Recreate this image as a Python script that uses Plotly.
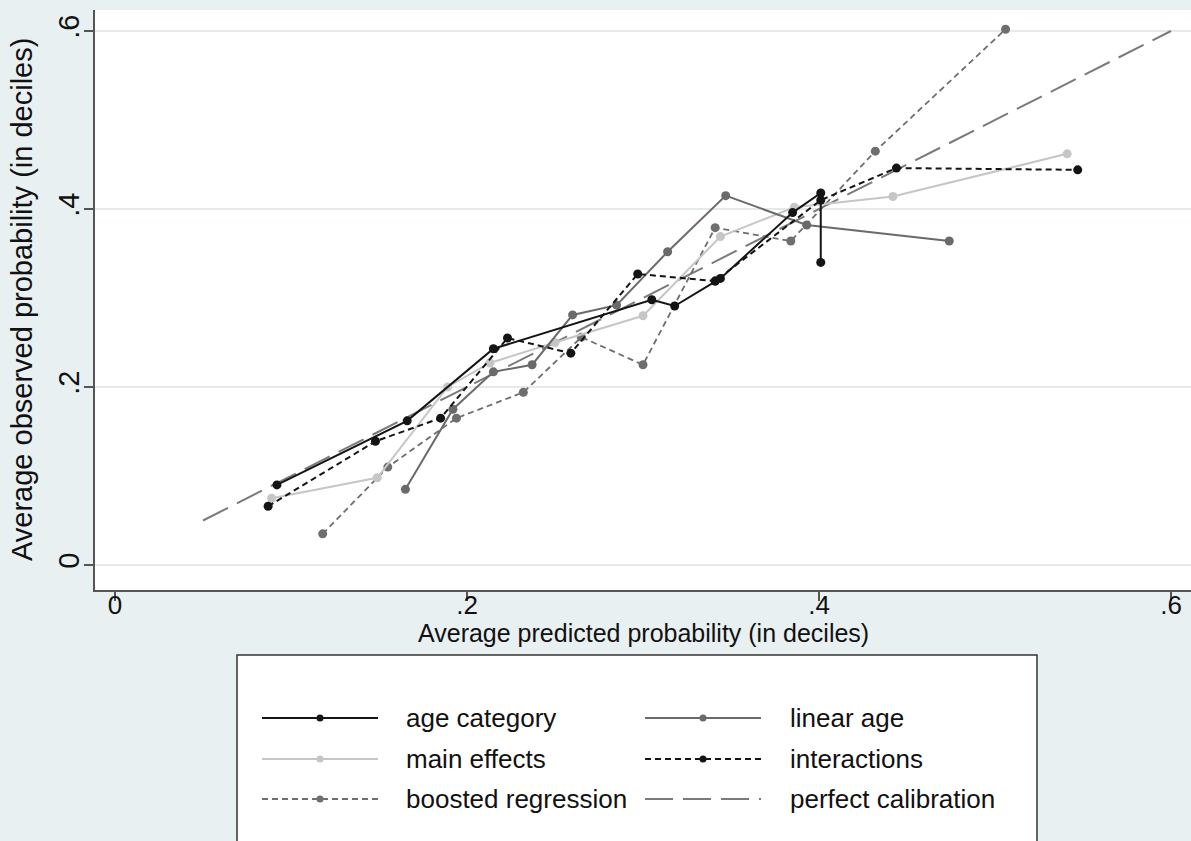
import plotly.graph_objects as go

# Calibration curves: average predicted vs. average observed probability by decile
age_category_x = [0.092, 0.166, 0.215, 0.305, 0.318, 0.341, 0.344, 0.385, 0.401, 0.401]
age_category_y = [0.090, 0.162, 0.243, 0.298, 0.291, 0.319, 0.322, 0.396, 0.418, 0.340]

linear_age_x = [0.165, 0.192, 0.215, 0.237, 0.260, 0.285, 0.314, 0.347, 0.393, 0.474]
linear_age_y = [0.085, 0.175, 0.217, 0.225, 0.281, 0.292, 0.352, 0.415, 0.382, 0.364]

main_effects_x = [0.089, 0.149, 0.189, 0.213, 0.250, 0.300, 0.344, 0.386, 0.442, 0.541]
main_effects_y = [0.075, 0.098, 0.200, 0.227, 0.250, 0.280, 0.369, 0.402, 0.414, 0.462]

interactions_x = [0.087, 0.148, 0.185, 0.223, 0.259, 0.297, 0.341, 0.401, 0.444, 0.547]
interactions_y = [0.066, 0.139, 0.165, 0.255, 0.238, 0.327, 0.319, 0.410, 0.446, 0.444]

boosted_x = [0.118, 0.155, 0.194, 0.232, 0.265, 0.300, 0.341, 0.384, 0.432, 0.506]
boosted_y = [0.035, 0.110, 0.165, 0.194, 0.256, 0.225, 0.379, 0.364, 0.465, 0.602]

perfect_x = [0.05, 0.60]
perfect_y = [0.05, 0.60]

tick_vals = [0, 0.2, 0.4, 0.6]
tick_text = ["0", ".2", ".4", ".6"]

series_names = ["age category", "linear age", "main effects",
                "interactions", "boosted regression", "perfect calibration"]

styles = {
    "age category": dict(color="#141414", dash="solid", width=2, marker=True),
    "linear age": dict(color="#6a6a6a", dash="solid", width=2, marker=True),
    "main effects": dict(color="#c6c6c6", dash="solid", width=2, marker=True),
    "interactions": dict(color="#141414", dash="6px,4px", width=2, marker=True),
    "boosted regression": dict(color="#6e6e6e", dash="6px,4px", width=1.8, marker=True),
    "perfect calibration": dict(color="#7a7a7a", dash="28px,10px", width=2, marker=False),
}

data = {
    "age category": (age_category_x, age_category_y),
    "linear age": (linear_age_x, linear_age_y),
    "main effects": (main_effects_x, main_effects_y),
    "interactions": (interactions_x, interactions_y),
    "boosted regression": (boosted_x, boosted_y),
    "perfect calibration": (perfect_x, perfect_y),
}

FONT = "Liberation Sans, Arial, sans-serif"
W, H = 1191, 841
L, R, T, B = 95, 0, 10, 251
PW, PH = W - L - R, H - T - B

def paper_x(px):
    return (px - L) / PW

def paper_y(py):
    return (H - B - py) / PH

fig = go.Figure()

draw_order = ["perfect calibration", "boosted regression", "main effects",
              "linear age", "interactions", "age category"]
for name in draw_order:
    xs, ys = data[name]
    st = styles[name]
    fig.add_trace(go.Scatter(
        x=xs, y=ys, name=name,
        mode="lines+markers" if st["marker"] else "lines",
        line=dict(color=st["color"], width=st["width"], dash=st["dash"]),
        marker=dict(color=st["color"], size=9),
        showlegend=False,
    ))

shapes = []
annotations = []

# Legend box
shapes.append(dict(type="rect", xref="paper", yref="paper",
                   x0=paper_x(237), x1=paper_x(1037), y0=paper_y(860), y1=paper_y(655),
                   fillcolor="white", line=dict(color="#333333", width=1.5), layer="above"))

rows = [718, 759, 799]
cols = [(262, 378, 404), (645, 761, 788)]
for i, name in enumerate(series_names):
    r, c = divmod(i, 2)
    x0, x1, xt = cols[c]
    yy = paper_y(rows[r])
    st = styles[name]
    shapes.append(dict(type="line", xref="paper", yref="paper",
                       x0=paper_x(x0), x1=paper_x(x1), y0=yy, y1=yy,
                       line=dict(color=st["color"], width=st["width"], dash=st["dash"]),
                       layer="above"))
    if st["marker"]:
        xc = paper_x((x0 + x1) / 2)
        shapes.append(dict(type="circle", xref="paper", yref="paper",
                           xsizemode="pixel", ysizemode="pixel",
                           xanchor=xc, yanchor=yy, x0=-3.5, x1=3.5, y0=-3.5, y1=3.5,
                           fillcolor=st["color"], line=dict(color=st["color"], width=0),
                           layer="above"))
    annotations.append(dict(text=name, xref="paper", yref="paper",
                            x=paper_x(xt), y=yy, xanchor="left", yanchor="middle",
                            showarrow=False,
                            font=dict(size=26, color="#111111", family=FONT)))

# Axis titles
annotations.append(dict(text="Average predicted probability (in deciles)",
                        xref="paper", yref="paper", x=0.5, y=paper_y(633),
                        xanchor="center", yanchor="middle", showarrow=False,
                        font=dict(size=25, color="#111111", family=FONT)))
annotations.append(dict(text="Average observed probability (in deciles)",
                        xref="paper", yref="paper", x=paper_x(22), y=0.5,
                        xanchor="center", yanchor="middle", textangle=-90,
                        showarrow=False,
                        font=dict(size=29, color="#111111", family=FONT)))

x_lo = (L - 115) / 1760
x_hi = (W - 115) / 1760
y_lo = (565 - (H - B)) / 890
y_hi = (565 - T) / 890

fig.update_layout(
    width=W, height=H,
    margin=dict(l=L, r=R, t=T, b=B),
    paper_bgcolor="#e9f0f2",
    plot_bgcolor="white",
    font=dict(family=FONT, color="#111111"),
    xaxis=dict(range=[x_lo, x_hi], tickvals=tick_vals, ticktext=tick_text,
               showgrid=False, zeroline=False, showline=True,
               linecolor="#555555", linewidth=1.5,
               ticks="outside", ticklen=9, tickcolor="#555555", tickwidth=1.5,
               ticklabelstandoff=-18,
               tickfont=dict(size=26, family=FONT)),
    yaxis=dict(range=[y_lo, y_hi], tickvals=tick_vals, ticktext=tick_text,
               showgrid=True, gridcolor="#e4eaec", gridwidth=1.5,
               zeroline=False, showline=True,
               linecolor="#555555", linewidth=1.5,
               ticks="outside", ticklen=9, tickcolor="#555555", tickwidth=1.5,
               ticklabelstandoff=-6,
               tickangle=-90, tickfont=dict(size=29, family=FONT)),
    shapes=shapes,
    annotations=annotations,
    showlegend=False,
)

fig.write_html("out.html")
